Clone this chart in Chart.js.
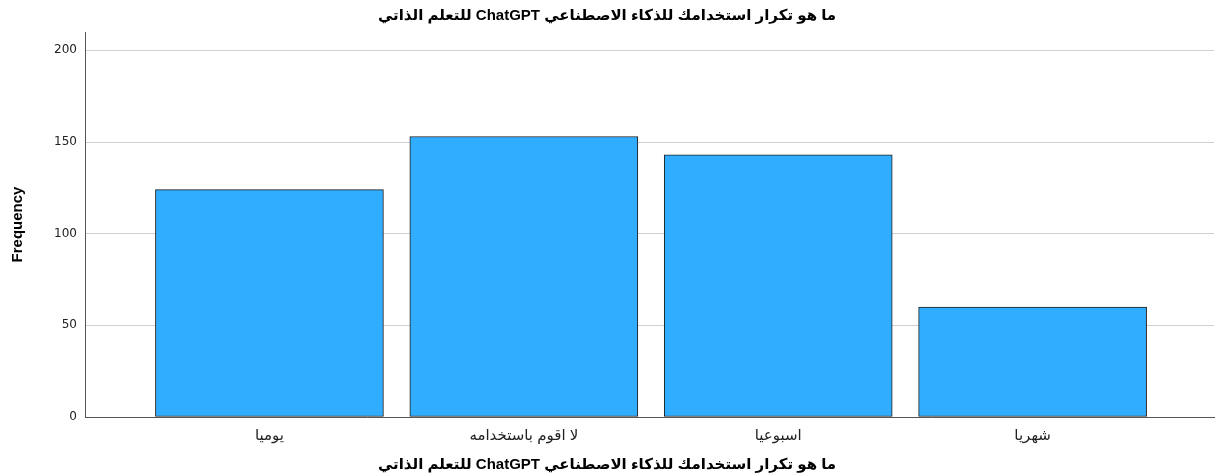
<!DOCTYPE html>
<html>
<head>
<meta charset="utf-8">
<script src="https://cdn.jsdelivr.net/npm/chart.js@4"></script>
<style>
  html, body { margin: 0; padding: 0; background: #fff; }
  #wrap { width: 1215px; height: 474px; }
</style>
</head>
<body>
<div id="wrap"><canvas id="chart" width="1215" height="474"></canvas></div>
<script>
// SPSS-style frequency bar chart.
const TITLE = 'ما هو تكرار استخدامك للذكاء الاصطناعي ChatGPT للتعلم الذاتي';
const CATEGORIES = ['يوميا', 'لا اقوم باستخدامه', 'اسبوعيا', 'شهريا'];
const FREQ = [124, 153, 143, 60];
const Y_TICKS = [0, 50, 100, 150, 200];

const FONT = "'Liberation Sans', 'DejaVu Sans', sans-serif";
// canvas text is LTR by default; wrap Arabic in an RTL embedding so the word order stays right
const rtl = (s) => '\u202B' + s + '\u202C';

const ctx = document.getElementById('chart').getContext('2d');
new Chart(ctx, {
  type: 'bar',
  data: {
    datasets: [{
      label: 'Frequency',
      data: FREQ.map((v, i) => ({ x: i, y: v })),
      backgroundColor: '#31adff',
      borderColor: '#1e1e1e',
      borderWidth: 1,
      borderSkipped: false,
      barThickness: 228,
    }],
  },
  options: {
    responsive: false,
    animation: false,
    layout: { padding: { left: 0, right: 1, top: 0, bottom: 0 } },
    plugins: {
      legend: { display: false },
      tooltip: { enabled: false },
      title: {
        display: true, text: rtl(TITLE), color: '#000',
        font: { family: FONT, size: 15, weight: 'bold' },
        padding: { top: 7, bottom: 7 },
      },
      subtitle: {
        display: true, position: 'bottom', text: rtl(TITLE), color: '#000',
        font: { family: FONT, size: 15, weight: 'bold' },
        padding: { top: 12, bottom: 0 },
      },
    },
    scales: {
      x: {
        type: 'linear', offset: false, min: -0.725, max: 3.713,
        afterBuildTicks: (a) => { a.ticks = CATEGORIES.map((_, i) => ({ value: i })); },
        afterFit: (a) => { a.height = 27; },
        grid: { display: false, drawTicks: false },
        border: { display: true, color: '#555', width: 1 },
        ticks: { padding: 10, color: '#222', font: { family: FONT, size: 15 }, callback: (v) => rtl(CATEGORIES[v]) },
      },
      y: {
        min: 0, max: 210,
        afterBuildTicks: (a) => { a.ticks = Y_TICKS.map((v) => ({ value: v })); },
        afterFit: (a) => { a.width = 85; },
        grid: { color: '#d0d0d0', lineWidth: 1, drawTicks: false },
        border: { display: true, color: '#555', width: 1 },
        ticks: { padding: 8, color: '#222', font: { family: "'DejaVu Sans', sans-serif", size: 12 } },
        title: {
          display: true, text: 'Frequency', color: '#000',
          font: { family: "'Liberation Sans Narrow', 'Liberation Sans', sans-serif", size: 15, weight: 'bold' },
          padding: { top: 9, bottom: 4 },
        },
      },
    },
  },
});
</script>
</body>
</html>
